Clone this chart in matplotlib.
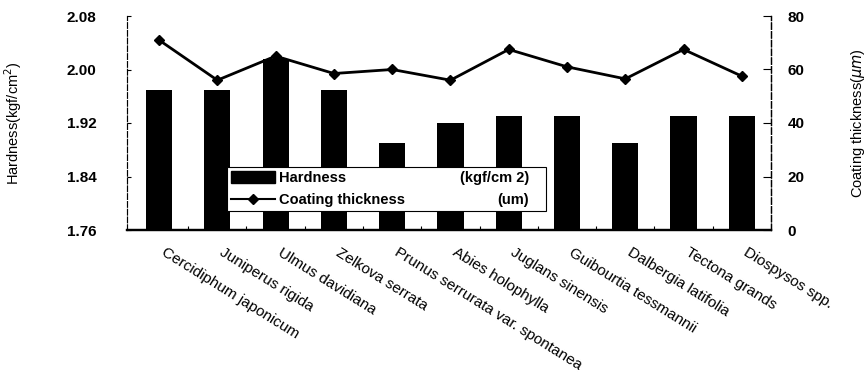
import matplotlib
matplotlib.use("Agg")
import matplotlib.pyplot as plt
import matplotlib.transforms as mtransforms
from matplotlib.patches import Patch
from matplotlib.lines import Line2D
import numpy as np

species = ["Cercidiphum japonicum", "Juniperus rigida", "Ulmus davidiana", "Zelkova serrata",
           "Prunus serrurata var. spontanea", "Abies holophylla", "Juglans sinensis",
           "Guibourtia tessmannii", "Dalbergia latifolia", "Tectona grands", "Diospysos spp."]
hardness = [1.97, 1.97, 2.015, 1.97, 1.89, 1.92, 1.93, 1.93, 1.89, 1.93, 1.93]
coating = [71, 56, 65, 58.5, 60, 56, 67.5, 61, 56.5, 67.5, 57.5]
left_ticks = [1.76, 1.84, 1.92, 2.00, 2.08]
right_ticks = [0, 20, 40, 60, 80]

plt.rcParams['font.family'] = ['Liberation Sans', 'DejaVu Sans']

fig = plt.figure(figsize=(8.68, 3.74), dpi=100)
ax = fig.add_axes([127/868, 1-230/374, (771-127)/868, (230-16)/374])
ax2 = ax.twinx()

x = np.arange(len(species))
ax.bar(x, hardness, width=0.45, color='black', zorder=2)
ax.set_ylim(1.76, 2.08)
ax.set_xlim(-0.55, len(species)-0.5)
ax.set_yticks(left_ticks)
ax.set_yticklabels([f"{v:.2f}" for v in left_ticks], fontsize=11, fontweight='bold')
ax.tick_params(axis='y', direction='in', length=3, width=0.8, pad=22)

ax2.plot(x, coating, color='black', lw=2, marker='D', ms=5, zorder=3)
ax2.set_ylim(0, 80)
ax2.set_yticks(right_ticks)
ax2.set_yticklabels([str(v) for v in right_ticks], fontsize=11, fontweight='bold')
ax2.tick_params(axis='y', direction='in', length=6, width=0.8, pad=12)

ax.set_xticks(x)
ax.set_xticklabels(species, rotation=-32, ha='left', va='top', rotation_mode='anchor', fontsize=11)
ax.tick_params(axis='x', length=0, pad=11)
offset = mtransforms.ScaledTranslation(7/100, 0, fig.dpi_scale_trans)
for lbl in ax.get_xticklabels():
    lbl.set_transform(lbl.get_transform() + offset)
ax.set_xticks(x[:-1] + 0.5, minor=True)
ax.tick_params(axis='x', which='minor', direction='in', length=3, width=0.8)

for a in (ax, ax2):
    a.spines['top'].set_visible(False)
    a.spines['left'].set_linestyle((0, (5, 2)))
    a.spines['right'].set_linestyle((0, (5, 2)))
    a.spines['left'].set_linewidth(0.8)
    a.spines['right'].set_linewidth(0.9)
    a.spines['bottom'].set_linewidth(1.6)
ax.spines['left'].set_color('#555555')

ax.set_ylabel("Hardness(kgf/cm$^2$)", fontsize=10.5)
ax.yaxis.set_label_coords(-103/643, 0.5)
ax2.set_ylabel("Coating thickness($\\mathit{\\mu m}$)", fontsize=10.5)
ax2.yaxis.set_label_coords(1 + 78/643, 0.5)

handles = [Patch(facecolor='black', edgecolor='black'),
           Line2D([], [], color='black', lw=1.5, marker='D', ms=5)]
leg = ax2.legend(handles, ["Hardness", "Coating thickness"], loc='lower left',
                 bbox_to_anchor=(0.156, 0.089, 0.495, 0.211), mode='expand',
                 borderaxespad=0, fancybox=False, framealpha=1, edgecolor='black',
                 handlelength=3.0, handleheight=0.9, handletextpad=0.3,
                 labelspacing=0.55, borderpad=0.25,
                 prop={'size': 10.5, 'weight': 'bold'})
leg.get_frame().set_linewidth(0.8)
leg.set_zorder(5)

fig.canvas.draw()
inv = ax2.transAxes.inverted()
for t, unit in zip(leg.get_texts(), ["(kgf/cm 2)", "(um)"]):
    bb = t.get_window_extent()
    yc = inv.transform((0, (bb.y0 + bb.y1) / 2))[1]
    ax2.text(0.624, yc, unit, transform=ax2.transAxes, ha='right', va='center',
             fontsize=10.5, fontweight='bold', zorder=6)

fig.savefig("out.png", dpi=100)
